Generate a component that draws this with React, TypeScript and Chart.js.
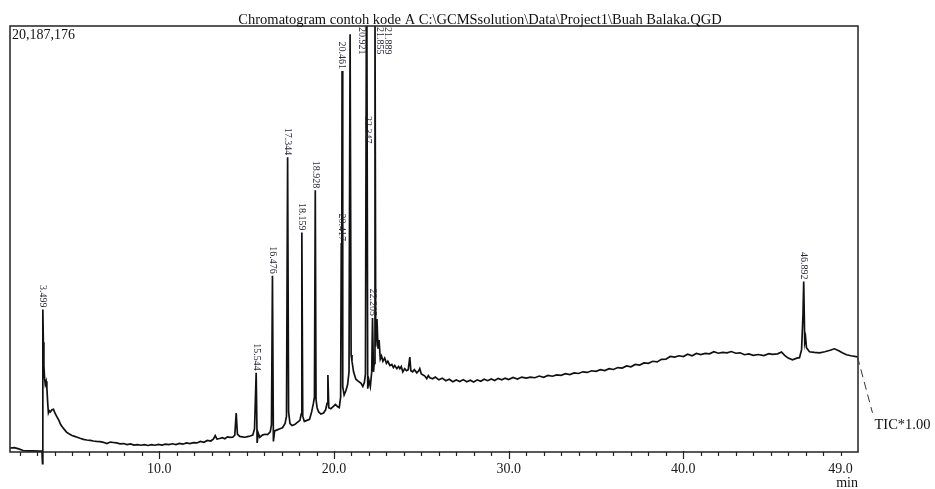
import { useEffect, useRef } from 'react';
import { Chart, registerables } from 'chart.js';

Chart.register(...registerables);

// ---- data (retention time in min, intensity in millions of counts) ----
const retentionTime = [
  1.45, 1.7, 1.95, 2.2, 2.5, 2.8, 3.1, 3.28, 3.31, 3.33,
  3.36, 3.39, 3.43, 3.47, 3.52, 3.56, 3.61, 3.65, 3.7, 3.76,
  3.85, 3.94, 4.02, 4.13, 4.25, 4.35, 4.45, 4.58, 4.7, 4.85,
  5.0, 5.15, 5.3, 5.46, 5.65, 5.85, 6.05, 6.22, 6.4, 6.6,
  6.8, 6.99, 7.2, 7.37, 7.55, 7.75, 7.95, 8.15, 8.35, 8.55,
  8.75, 8.95, 9.15, 9.35, 9.55, 9.75, 9.95, 10.15, 10.35, 10.55,
  10.75, 10.95, 11.15, 11.35, 11.55, 11.75, 11.95, 12.15, 12.35, 12.55,
  12.75, 12.95, 13.1, 13.2, 13.3, 13.45, 13.6, 13.75, 13.9, 14.05,
  14.2, 14.32, 14.4, 14.47, 14.6, 14.75, 14.9, 15.05, 15.2, 15.35,
  15.45, 15.544, 15.6, 15.66, 15.75, 15.9, 16.05, 16.2, 16.35, 16.42,
  16.476, 16.53, 16.6, 16.75, 16.9, 17.05, 17.2, 17.28, 17.344, 17.4,
  17.48, 17.6, 17.75, 17.9, 18.05, 18.12, 18.159, 18.21, 18.3, 18.45,
  18.6, 18.72, 18.82, 18.88, 18.928, 18.97, 19.03, 19.12, 19.25, 19.4,
  19.52, 19.6, 19.65, 19.7, 19.82, 19.95, 20.08, 20.2, 20.3, 20.38,
  20.417, 20.44, 20.461, 20.5, 20.58, 20.68, 20.78, 20.86, 20.921, 20.98,
  21.03, 21.12, 21.25, 21.4, 21.55, 21.65, 21.74, 21.8, 21.855, 21.872,
  21.889, 21.93, 22.0, 22.08, 22.16, 22.205, 22.26, 22.3, 22.347, 22.39,
  22.46, 22.52, 22.58, 22.65, 22.72, 22.8, 22.9, 23.0, 23.08, 23.2,
  23.31, 23.4, 23.48, 23.6, 23.7, 23.77, 23.85, 23.94, 24.05, 24.15,
  24.25, 24.34, 24.4, 24.5, 24.6, 24.74, 24.85, 24.91, 25.0, 25.08,
  25.2, 25.31, 25.4, 25.49, 25.65, 25.8, 26.0, 26.2, 26.4, 26.6,
  26.8, 27.0, 27.2, 27.4, 27.6, 27.8, 28.0, 28.2, 28.4, 28.6,
  28.8, 29.0, 29.2, 29.4, 29.6, 29.8, 30.0, 30.25, 30.5, 30.75,
  31.0, 31.25, 31.5, 31.75, 32.0, 32.25, 32.5, 32.75, 33.0, 33.25,
  33.5, 33.75, 34.0, 34.25, 34.5, 34.75, 35.0, 35.25, 35.5, 35.75,
  36.0, 36.25, 36.5, 36.75, 37.0, 37.25, 37.5, 37.75, 38.0, 38.25,
  38.5, 38.75, 39.0, 39.25, 39.5, 39.75, 40.0, 40.25, 40.5, 40.75,
  41.0, 41.25, 41.5, 41.75, 42.0, 42.25, 42.5, 42.75, 43.0, 43.25,
  43.5, 43.75, 44.0, 44.3, 44.6, 44.9, 45.1, 45.4, 45.62, 45.8,
  46.0, 46.25, 46.5, 46.65, 46.77, 46.85, 46.892, 46.95, 47.0, 47.05,
  47.22, 47.5, 47.8, 48.1, 48.4, 48.65, 48.9, 49.1, 49.34, 49.6,
  49.97,
];

const intensity = [
  0.19, 0.21, 0.15, 0.07, 0.05, 0.05, 0.04, 0.05, -0.55, 6.75,
  5.2, 4.1, 3.5, 3.2, 3.35, 3.05, 2.3, 1.85, 1.95, 1.9,
  2.0, 2.02, 1.85, 1.68, 1.5, 1.3, 1.18, 1.05, 0.93, 0.85,
  0.78, 0.74, 0.7, 0.65, 0.6, 0.57, 0.55, 0.52, 0.5, 0.49,
  0.46, 0.4, 0.47, 0.45, 0.43, 0.39, 0.4, 0.35, 0.38, 0.33,
  0.35, 0.32, 0.35, 0.31, 0.35, 0.32, 0.36, 0.33, 0.37, 0.35,
  0.39, 0.35, 0.41, 0.37, 0.43, 0.4, 0.44, 0.43, 0.5, 0.46,
  0.55, 0.52, 0.62, 0.78, 0.61, 0.64, 0.68, 0.63, 0.72, 0.69,
  0.7, 0.8, 1.85, 0.85, 0.74, 0.72, 0.7, 0.73, 0.76, 0.8,
  1.1, 3.75, 0.43, 0.9, 0.7, 0.8, 0.84, 0.82, 0.95, 1.3,
  8.35, 0.5, 1.0, 1.05, 1.1, 1.15, 1.35, 1.7, 13.97, 1.9,
  1.35, 1.25, 1.3, 1.4, 1.5, 1.8, 10.4, 1.7, 1.45, 1.5,
  1.55, 1.9, 2.3, 2.6, 12.4, 2.5, 2.1, 1.9, 1.8, 1.85,
  2.0, 2.3, 3.65, 2.1, 2.05, 2.15, 2.25, 2.15, 2.1, 2.6,
  9.9, 6.0, 18.05, 3.1, 2.7, 2.9, 3.2, 3.8, 19.8, 4.6,
  4.3, 3.8, 3.45, 3.35, 3.25, 3.1, 3.3, 3.7, 21, 14,
  21, 3.0, 3.4, 3.1, 3.8, 6.35, 3.8, 4.2, 21, 5.0,
  6.3, 4.9, 5.3, 4.4, 4.55, 4.3, 4.45, 4.2, 4.3, 4.1,
  4.15, 4.0, 4.1, 3.95, 4.05, 3.95, 4.05, 3.8, 3.95, 3.85,
  3.9, 4.5, 3.85, 3.8, 3.9, 3.75, 3.85, 3.95, 3.7, 3.66,
  3.6, 3.48, 3.62, 3.52, 3.47, 3.55, 3.42, 3.5, 3.38, 3.45,
  3.33, 3.41, 3.34, 3.43, 3.33, 3.4, 3.32, 3.42, 3.35, 3.45,
  3.38, 3.46, 3.39, 3.49, 3.42, 3.5, 3.43, 3.53, 3.46, 3.55,
  3.5, 3.55, 3.52, 3.6, 3.54, 3.63, 3.59, 3.65, 3.63, 3.71,
  3.67, 3.75, 3.72, 3.8, 3.77, 3.85, 3.82, 3.9, 3.86, 3.95,
  3.91, 4.0, 3.98, 4.08, 4.04, 4.15, 4.12, 4.22, 4.2, 4.3,
  4.27, 4.39, 4.4, 4.53, 4.5, 4.56, 4.52, 4.63, 4.56, 4.67,
  4.62, 4.67, 4.65, 4.75, 4.68, 4.72, 4.7, 4.76, 4.68, 4.7,
  4.61, 4.65, 4.58, 4.62, 4.57, 4.66, 4.63, 4.65, 4.74, 4.58,
  4.45, 4.37, 4.45, 4.47, 4.85, 6.5, 8.08, 5.2, 5.42, 4.94,
  4.75, 4.72, 4.7, 4.75, 4.82, 4.89, 4.8, 4.7, 4.61, 4.56,
  4.51,
];

// peak apex positions in the trace and their retention-time labels
const peakApexTime = [3.33, 15.544, 16.476, 17.344, 18.159, 18.928, 20.417, 20.461, 20.921, 21.855, 21.889, 22.205, 22.347, 46.892];
const peakLabels = ['3.499', '15.544', '16.476', '17.344', '18.159', '18.928', '20.417', '20.461', '20.921', '21.855', '21.889', '22.205', '22.347', '46.892'];

const xTickValues = [10, 20, 30, 40, 49];
const xTickLabels = ['10.0', '20.0', '30.0', '40.0', '49.0'];
const yMaxCounts = 20187176;
const yMaxLabel = '20,187,176';
const chartTitle = 'Chromatogram contoh kode A C:\\GCMSsolution\\Data\\Project1\\Buah Balaka.QGD';
const traceName = 'TIC*1.00';
const xUnit = 'min';

const SERIF = "'Liberation Serif', 'Times New Roman', serif";

const decorPlugin = {
  id: 'decor',
  afterDraw(chart: any, _args: any, opts: any) {
    const { ctx, chartArea: a, scales } = chart;
    const x = scales.x;
    const y = scales.y;
    ctx.save();

    // frame
    ctx.strokeStyle = '#222';
    ctx.lineWidth = 1.5;
    ctx.strokeRect(a.left, a.top, a.right - a.left, a.bottom - a.top);

    // minor / major ticks
    ctx.lineWidth = 1.2;
    ctx.beginPath();
    for (let t = Math.ceil(x.min); t < x.max - 0.5; t++) {
      const px = Math.round(x.getPixelForValue(t)) + 0.5;
      const major = t % 10 === 0;
      ctx.moveTo(px, a.bottom - (major ? 1 : 0));
      ctx.lineTo(px, a.bottom + (major ? 7 : 4));
    }
    ctx.stroke();

    // title
    ctx.fillStyle = '#111';
    ctx.font = `14.5px ${SERIF}`;
    ctx.textAlign = 'center';
    ctx.textBaseline = 'alphabetic';
    ctx.fillText(chartTitle, opts.titleX, a.top - 2);

    // y max label
    ctx.font = `14px ${SERIF}`;
    ctx.textAlign = 'left';
    ctx.fillText(yMaxLabel, a.left + 2, a.top + 13);

    // unit
    ctx.textAlign = 'right';
    ctx.textBaseline = 'middle';
    ctx.fillText(xUnit, a.right, a.bottom + 31);

    // trace name leader
    const last = retentionTime.length - 1;
    const lx = x.getPixelForValue(retentionTime[last]);
    const ly = y.getPixelForValue(intensity[last]);
    ctx.strokeStyle = '#333';
    ctx.lineWidth = 1;
    ctx.setLineDash([8, 5]);
    ctx.beginPath();
    ctx.moveTo(lx, ly);
    ctx.lineTo(lx + 15, ly + 56);
    ctx.stroke();
    ctx.setLineDash([]);
    ctx.font = `14.5px ${SERIF}`;
    ctx.textAlign = 'left';
    ctx.textBaseline = 'middle';
    ctx.fillText(traceName, lx + 17, ly + 68);

    // peak labels
    ctx.font = `10px ${SERIF}`;
    ctx.fillStyle = '#2a2a3a';
    peakLabels.forEach((label, i) => {
      const t = peakApexTime[i];
      let idx = 0;
      let best = Infinity;
      retentionTime.forEach((rt, j) => {
        const d = Math.abs(rt - t);
        if (d < best) { best = d; idx = j; }
      });
      const px = x.getPixelForValue(t);
      const py = y.getPixelForValue(intensity[idx]);
      const len = ctx.measureText(label).width;
      const nudge = (opts.nudges && opts.nudges[label]) || {};
      let yEnd = py - 2;
      if (yEnd - len < a.top + 1) yEnd = a.top + 1 + len;
      yEnd += nudge.dy || 0;
      const xx = px + (nudge.dx || 0);
      ctx.save();
      ctx.translate(xx, yEnd);
      ctx.rotate(Math.PI / 2);
      ctx.textAlign = 'right';
      ctx.textBaseline = 'middle';
      ctx.fillText(label, 0, 0);
      ctx.restore();
    });

    ctx.restore();
  },
};

export default function App() {
  const ref = useRef<HTMLCanvasElement>(null);

  useEffect(() => {
    const canvas = ref.current;
    if (!canvas) return;
    const chart = new Chart(canvas, {
      type: 'line',
      data: {
        datasets: [
          {
            label: traceName,
            data: retentionTime.map((t, i) => ({ x: t, y: intensity[i] })),
            borderColor: '#111',
            borderWidth: 1.7,
            pointRadius: 0,
            tension: 0,
            fill: false,
            clip: { left: 0, top: 0, right: 0, bottom: 14 } as any,
          },
        ],
      },
      options: {
        responsive: false,
        animation: false,
        devicePixelRatio: 1,
        layout: { padding: { left: 10, right: 77, top: 26, bottom: 0 } },
        plugins: {
          legend: { display: false },
          tooltip: { enabled: false },
          title: { display: false },
          decor: {
            titleX: 480,
            nudges: {
              '20.921': { dx: 12 },
              '21.855': { dx: 13 },
              '21.889': { dx: 21 },
              '22.347': { dx: -7, dy: 89 },
            },
          },
        } as any,
        scales: {
          x: {
            type: 'linear',
            min: 1.45,
            max: 50,
            grid: { display: false, drawTicks: true, tickLength: 7 },
            border: { display: false },
            afterBuildTicks: (s: any) => {
              s.ticks = xTickValues.map((v) => ({ value: v }));
            },
            afterFit: (s: any) => {
              s.height = 37;
            },
            ticks: {
              autoSkip: false,
              maxRotation: 0,
              padding: 2,
              color: '#1a1a1a',
              font: { family: SERIF, size: 14 },
              callback: (v: any) => {
                const i = xTickValues.indexOf(Number(v));
                return i >= 0 ? xTickLabels[i] : '';
              },
            },
          },
          y: {
            type: 'linear',
            display: false,
            min: 0,
            max: yMaxCounts / 1e6,
          },
        },
      },
      plugins: [decorPlugin],
    });
    return () => chart.destroy();
  }, []);

  return (
    <div style={{ position: 'fixed', left: 0, top: 0, width: 935, height: 489, background: '#fff' }}>
      <canvas ref={ref} width={935} height={489} style={{ display: 'block' }} />
    </div>
  );
}
